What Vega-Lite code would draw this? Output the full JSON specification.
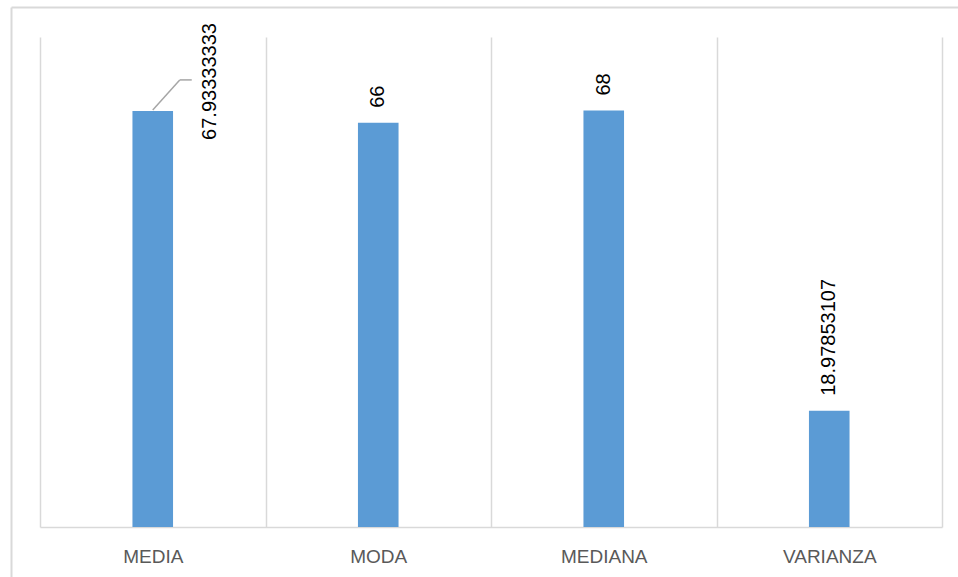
{
  "$schema": "https://vega.github.io/schema/vega-lite/v6.json",
  "width": 947,
  "height": 550,
  "autosize": "none",
  "padding": {"left": 11, "top": 7, "right": 0, "bottom": 20},
  "background": "white",
  "config": {"view": {"stroke": null}, "font": "Liberation Sans"},
  "data": {
    "values": [
      {"stat": "MEDIA", "value": 67.93333333},
      {"stat": "MODA", "value": 66},
      {"stat": "MEDIANA", "value": 68},
      {"stat": "VARIANZA", "value": 18.97853107}
    ]
  },
  "layer": [
    {
      "description": "Chart frame: left and top border lines",
      "mark": {"type": "point", "opacity": 0},
      "encoding": {
        "x": {
          "datum": 0,
          "type": "quantitative",
          "axis": {"orient": "top", "domain": true, "domainColor": "#d9d9d9", "domainWidth": 2, "labels": false, "ticks": false, "grid": false, "title": null}
        },
        "y": {
          "datum": 0,
          "type": "quantitative",
          "scale": {"range": [570, 0]},
          "axis": {"orient": "left", "domain": true, "domainColor": "#d9d9d9", "domainWidth": 2, "labels": false, "ticks": false, "grid": false, "title": null}
        }
      }
    },
    {
      "encoding": {
        "x": {
          "field": "stat",
          "type": "nominal",
          "sort": null,
          "scale": {"range": [29, 931], "paddingInner": 0, "paddingOuter": 0},
          "axis": {
            "title": null,
            "orient": "bottom",
            "offset": -30,
            "domain": true,
            "domainColor": "#d9d9d9",
            "domainWidth": 1.5,
            "ticks": false,
            "tickSize": 0,
            "tickBand": "extent",
            "grid": true,
            "gridColor": "#d9d9d9",
            "gridWidth": 1.5,
            "labelAngle": 0,
            "labelFont": "Liberation Sans",
            "labelFontSize": 19,
            "labelColor": "#595959",
            "labelPadding": 29,
            "labelBaseline": "middle"
          }
        },
        "y": {
          "field": "value",
          "type": "quantitative",
          "scale": {"domain": [0, 80], "range": [520, 30]},
          "axis": null
        }
      },
      "layer": [
        {"mark": {"type": "bar", "color": "#5b9bd5", "width": {"band": 0.18}}},
        {
          "transform": [{"filter": "datum.stat !== 'MEDIA'"}],
          "mark": {"type": "text", "angle": 270, "align": "left", "baseline": "middle", "yOffset": -15, "font": "Liberation Sans", "fontSize": 20, "color": "#000000"},
          "encoding": {"text": {"field": "value", "type": "nominal"}}
        },
        {
          "transform": [{"filter": "datum.stat === 'MEDIA'"}],
          "mark": {"type": "text", "angle": 270, "align": "left", "baseline": "middle", "xOffset": 57, "yOffset": 29, "font": "Liberation Sans", "fontSize": 20, "color": "#000000"},
          "encoding": {"text": {"field": "value", "type": "nominal"}}
        },
        {
          "transform": [{"filter": "datum.stat === 'MEDIA'"}],
          "mark": {"type": "rule", "color": "#a6a6a6", "strokeWidth": 1.5, "yOffset": -1, "x2Offset": 27, "y2Offset": -31},
          "encoding": {"x2": {"field": "stat"}, "y2": {"field": "value"}}
        },
        {
          "transform": [{"filter": "datum.stat === 'MEDIA'"}],
          "mark": {"type": "rule", "color": "#a6a6a6", "strokeWidth": 1.5, "xOffset": 27, "x2Offset": 39, "yOffset": -31, "y2Offset": -31},
          "encoding": {"x2": {"field": "stat"}, "y2": {"field": "value"}}
        }
      ]
    }
  ],
  "resolve": {
    "scale": {"x": "independent", "y": "independent"},
    "axis": {"x": "independent", "y": "independent"}
  }
}
